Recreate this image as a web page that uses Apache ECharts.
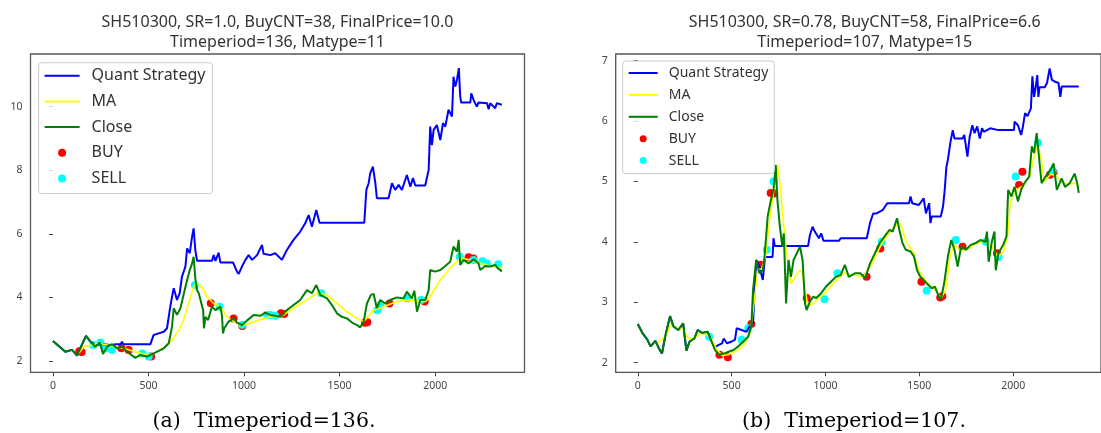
<!DOCTYPE html>
<html>
<head>
<meta charset="utf-8">
<script src="https://cdn.jsdelivr.net/npm/echarts@6/dist/echarts.min.js"></script>
<style>
  html, body { margin: 0; padding: 0; background: #fff; overflow: hidden; }
  #main { width: 1101px; height: 433px; }
</style>
</head>
<body>
<div id="main"></div>
<script>
// ---- data (index on x, price on y) ----
const xTicks = [0, 500, 1000, 1500, 2000];
const yTicksA = [2, 4, 6, 8, 10];
const yTicksB = [2, 3, 4, 5, 6, 7];

// (a) Timeperiod=136
const qsA_x = [0,65,100,126,143,173,196,222,248,265,300,330,355,361,368,484,510,527,553,580,597,611,623,632,649,663,675,693,702,716,728,736,745,754,832,841,850,867,876,942,963,972,989,1007,1024,1042,1068,1094,1102,1137,1163,1198,1224,1259,1294,1320,1338,1355,1378,1395,1629,1640,1652,1660,1674,1687,1695,1756,1774,1791,1809,1826,1852,1870,1884,1896,1948,1966,1974,1983,1992,2009,2027,2041,2053,2070,2088,2096,2105,2114,2124,2131,2136,2184,2189,2201,2218,2227,2271,2280,2288,2314,2323,2349];
const qsA_y = [2.63,2.29,2.35,2.17,2.40,2.79,2.61,2.50,2.53,2.53,2.50,2.53,2.53,2.61,2.53,2.53,2.53,2.82,2.87,2.92,3.03,3.60,4.02,4.29,3.92,4.13,4.65,4.97,5.54,5.39,5.91,6.17,5.49,5.15,5.15,5.33,5.15,5.41,5.10,5.10,4.81,4.74,4.97,5.18,5.33,5.18,5.33,5.65,5.37,5.33,5.39,5.18,5.49,5.81,6.07,6.33,6.59,6.22,6.75,6.35,6.35,7.38,7.59,7.90,8.11,7.59,7.12,7.12,7.59,7.38,7.54,7.38,7.85,7.48,7.75,7.52,7.52,8.01,9.37,8.79,9.27,9.42,8.95,9.48,9.37,9.90,9.69,10.94,10.63,10.84,11.21,10.32,10.13,10.13,10.42,10.21,10.00,10.13,10.11,9.92,10.11,9.95,10.11,10.06];

const maA_x = [135,161,240,309,388,457,510,545,588,623,658,684,710,736,754,780,806,841,876,911,946,981,1015,1068,1137,1190,1259,1329,1381,1434,1486,1538,1591,1626,1678,1730,1800,1870,1948,1974,2027,2079,2131,2184,2236,2288,2349];
const maA_y = [2.24,2.45,2.56,2.47,2.37,2.24,2.19,2.29,2.45,2.66,2.98,3.29,3.81,4.34,4.44,4.34,4.02,3.81,3.71,3.39,3.24,3.13,3.16,3.27,3.39,3.39,3.66,3.92,4.13,4.08,3.81,3.55,3.34,3.24,3.60,3.71,3.87,3.92,3.87,4.02,4.55,4.92,5.23,5.18,5.07,4.99,4.93];

const closeA_x = [0,65,100,126,143,173,196,222,245,262,283,309,335,361,388,431,457,492,527,580,606,623,632,649,667,681,702,716,728,736,745,754,763,772,786,790,798,812,832,850,876,884,890,897,919,946,963,989,1015,1050,1085,1111,1137,1190,1224,1259,1294,1329,1355,1378,1399,1434,1460,1486,1512,1538,1565,1591,1608,1626,1643,1664,1678,1695,1713,1739,1765,1800,1835,1852,1878,1891,1905,1922,1948,1966,1974,2000,2027,2053,2079,2096,2114,2123,2131,2149,2175,2201,2227,2236,2262,2288,2314,2327,2349];
const closeA_y = [2.63,2.29,2.35,2.17,2.40,2.79,2.61,2.45,2.58,2.22,2.45,2.53,2.40,2.45,2.29,2.10,2.19,2.14,2.24,2.40,2.56,3.08,3.66,3.45,3.66,4.02,4.55,4.86,5.07,5.28,4.60,4.23,4.13,3.92,3.60,3.03,3.39,3.29,3.71,3.60,3.71,3.45,2.87,3.03,3.24,3.34,3.21,3.13,3.27,3.45,3.42,3.52,3.45,3.39,3.60,3.76,3.92,4.23,4.13,4.39,4.08,3.97,3.76,3.50,3.39,3.34,3.21,3.13,3.06,3.24,3.81,4.08,4.11,3.66,3.92,3.81,3.92,4.00,3.97,4.18,3.97,4.21,3.55,3.92,3.92,4.23,4.86,4.81,4.86,4.99,5.12,5.60,5.44,5.81,5.02,5.18,5.07,5.20,5.07,4.86,4.99,4.97,5.02,4.92,4.82];

const buyA_x = [138,150,358,396,514,826,945,991,1193,1210,1633,1645,1761,1945,2175,2200];
const buyA_y = [2.31,2.28,2.40,2.35,2.14,3.82,3.34,3.10,3.50,3.48,3.20,3.22,3.81,3.87,5.26,5.22];
const sellA_x = [211,248,275,309,468,501,743,872,991,1120,1137,1163,1404,1697,1713,1852,1927,2129,2201,2248,2271,2330];
const sellA_y = [2.50,2.58,2.40,2.35,2.24,2.14,4.39,3.71,3.14,3.45,3.45,3.42,4.13,3.60,3.76,3.97,3.92,5.28,5.18,5.14,5.07,5.04];

// (b) Timeperiod=107
const qsB_x = [0,25,51,68,94,112,129,146,172,190,216,242,259,276,302,319,345,372,389,411,423,449,458,475,501,518,527,553,579,596,614,631,648,666,678,718,723,730,907,917,931,943,951,965,977,989,1072,1081,1220,1237,1254,1272,1306,1329,1445,1453,1462,1497,1523,1535,1552,1559,1566,1614,1626,1635,1644,1652,1666,1678,1687,1730,1739,1748,1756,1768,1782,1794,1808,1822,1834,1843,1877,1921,2004,2007,2025,2042,2050,2063,2076,2094,2102,2111,2120,2128,2134,2140,2168,2180,2194,2206,2224,2241,2251,2258,2349];
const qsB_y = [2.64,2.49,2.38,2.27,2.36,2.24,2.15,2.43,2.77,2.60,2.54,2.65,2.20,2.35,2.40,2.54,2.49,2.51,2.38,2.25,2.28,2.32,2.40,2.32,2.35,2.38,2.57,2.54,2.51,2.60,2.65,3.70,3.59,3.37,3.75,3.75,4.06,3.93,3.93,4.11,4.25,4.17,4.20,4.06,4.14,4.02,4.02,4.06,4.06,4.31,4.47,4.47,4.53,4.64,4.64,4.75,4.64,4.61,4.72,4.47,4.64,4.31,4.42,4.42,4.58,4.86,5.24,5.36,5.66,5.85,5.71,5.71,5.77,5.58,5.41,5.74,5.93,5.80,5.91,5.71,5.88,5.82,5.88,5.85,5.85,5.99,5.93,5.77,5.88,6.13,6.08,6.21,6.74,6.40,6.57,6.76,6.40,6.56,6.56,6.63,6.87,6.68,6.65,6.63,6.40,6.57,6.57];

const maB_x = [107,150,172,200,240,270,300,330,360,390,420,450,480,510,540,570,600,620,640,660,680,700,720,735,745,760,775,790,803,816,830,856,873,891,907,934,968,1012,1060,1100,1150,1200,1250,1300,1340,1385,1400,1430,1470,1500,1540,1580,1615,1640,1665,1690,1720,1760,1800,1850,1880,1920,1950,1970,1985,2010,2050,2090,2110,2130,2150,2165,2200,2230,2260,2300,2330,2349];
const maB_y = [2.33,2.45,2.62,2.58,2.55,2.40,2.40,2.47,2.48,2.40,2.22,2.12,2.13,2.17,2.22,2.32,2.50,3.00,3.55,3.55,3.75,4.30,4.75,5.10,5.27,4.90,4.35,3.90,3.59,3.31,3.37,3.51,3.53,3.20,2.93,2.98,3.07,3.20,3.38,3.48,3.45,3.42,3.65,3.98,4.15,4.30,4.30,4.00,3.82,3.50,3.33,3.22,3.07,3.20,3.80,3.95,3.85,3.88,3.97,4.02,3.95,3.75,3.85,4.10,4.65,4.85,4.92,5.10,5.40,5.60,5.35,5.00,5.12,5.10,4.98,4.95,4.98,4.88];

const closeB_x = [0,25,51,68,94,112,129,146,172,190,216,242,259,276,302,319,345,372,389,411,432,458,484,510,536,562,588,605,614,631,648,666,674,692,709,723,735,744,757,770,778,790,803,816,830,847,864,878,891,899,917,934,951,977,1003,1029,1055,1081,1103,1124,1159,1185,1211,1237,1263,1289,1315,1341,1358,1381,1393,1410,1427,1453,1471,1488,1505,1523,1540,1566,1583,1600,1614,1632,1652,1670,1687,1704,1722,1748,1774,1800,1825,1851,1860,1869,1886,1900,1907,1921,1947,1964,1973,1990,2007,2025,2042,2059,2085,2099,2111,2125,2137,2151,2172,2198,2215,2232,2258,2276,2301,2327,2341,2349];
const closeB_y = [2.64,2.49,2.38,2.27,2.36,2.24,2.15,2.43,2.77,2.60,2.54,2.65,2.20,2.35,2.40,2.54,2.49,2.51,2.38,2.21,2.13,2.15,2.18,2.21,2.27,2.35,2.43,2.60,3.20,3.70,3.48,3.53,3.70,4.42,4.69,4.86,5.27,4.69,4.25,3.92,4.14,2.98,3.70,3.42,3.70,3.81,3.92,3.70,2.98,2.87,3.01,3.09,3.07,3.15,3.26,3.34,3.42,3.45,3.62,3.42,3.48,3.48,3.40,3.64,3.81,3.98,4.09,4.20,4.17,4.39,4.20,3.98,3.87,3.84,3.76,3.53,3.42,3.37,3.31,3.23,3.26,3.12,3.04,3.31,3.76,4.03,3.87,3.59,3.92,3.87,3.95,3.98,4.03,4.00,4.17,3.67,4.00,4.17,3.53,3.81,3.95,4.09,4.86,4.75,4.91,4.67,4.86,4.97,5.08,5.58,5.47,5.80,5.41,4.97,5.08,5.19,5.30,4.86,5.05,4.91,4.97,5.13,4.97,4.81];

const buyB_x = [435,480,605,653,708,727,900,1219,1292,1511,1611,1622,1730,1913,2031,2049,2196,2215];
const buyB_y = [2.13,2.09,2.64,3.62,4.81,4.80,3.07,3.42,3.89,3.34,3.08,3.10,3.92,3.81,4.94,5.16,5.11,5.15];
const sellB_x = [380,553,589,687,723,995,1064,1300,1539,1694,1854,1922,2013,2132,2210];
const sellB_y = [2.43,2.38,2.57,3.87,5.00,3.05,3.48,4.00,3.19,4.03,4.00,3.75,5.08,5.64,5.17];

// ---- chart ----
const zip = (xs, ys) => xs.map((x, k) => [x, ys[k]]);
const hideDot = { color: 'rgba(0,0,0,0)', borderWidth: 0, opacity: 0 };
const legendNames = [
  { name: 'Quant Strategy', itemStyle: hideDot },
  { name: 'MA', itemStyle: hideDot },
  { name: 'Close', itemStyle: hideDot },
  { name: 'BUY', icon: 'circle' },
  { name: 'SELL', icon: 'circle' }
];

function seriesFor(idx, qx, qy, mx, my, cx, cy, bx, by, sx, sy) {
  const line = (name, color, w, xs, ys) => ({
    name: name, type: 'line', xAxisIndex: idx, yAxisIndex: idx,
    data: zip(xs, ys), symbol: 'none', showSymbol: false, z: 3,
    lineStyle: { color: color, width: w }, itemStyle: { color: color },
    animation: false
  });
  const dots = (name, color, xs, ys) => ({
    name: name, type: 'scatter', xAxisIndex: idx, yAxisIndex: idx,
    data: zip(xs, ys), symbol: 'circle', symbolSize: 8, z: 1,
    itemStyle: { color: color, opacity: 1 }, animation: false
  });
  return [
    line('Quant Strategy', '#0000ff', 2, qx, qy),
    line('MA', '#ffff00', 1.6, mx, my),
    line('Close', '#008000', 2, cx, cy),
    dots('BUY', '#ff0000', bx, by),
    dots('SELL', '#00ffff', sx, sy)
  ];
}

const tickLabel = { margin: 8, fontSize: 10.5, color: '#444', fontFamily: 'Noto Sans', formatter: v => String(v) };

function xAxisFor(idx) {
  return {
    type: 'value', gridIndex: idx, min: -117.5, max: 2467.5,
    splitLine: { show: false }, axisLine: { show: false },
    axisTick: { show: true, inside: false, length: 4, customValues: xTicks, lineStyle: { color: '#444' } },
    axisLabel: Object.assign({ customValues: xTicks }, tickLabel)
  };
}
function yAxisFor(idx, min, max, ticks) {
  return {
    type: 'value', gridIndex: idx, min: min, max: max,
    splitLine: { show: false }, axisLine: { show: false },
    axisTick: { show: true, inside: false, length: 4, customValues: ticks, lineStyle: { color: '#444' } },
    axisLabel: Object.assign({ customValues: ticks }, tickLabel)
  };
}
function legendFor(left, top, w, h, gap, fs, pad, tpad) {
  return {
    orient: 'vertical', left: left, top: top, itemWidth: w, itemHeight: h, itemGap: gap,
    padding: pad, backgroundColor: 'rgba(255,255,255,0.8)', borderColor: '#cccccc',
    borderWidth: 1, borderRadius: 3, selectedMode: false, data: legendNames,
    textStyle: { fontFamily: 'Noto Sans', fontSize: fs, color: '#333', padding: [0, 0, 0, tpad] }
  };
}

const chart = echarts.init(document.getElementById('main'), null, { renderer: 'canvas' });
const titleStyle = { fontFamily: 'Noto Sans', fontWeight: 'normal', fontSize: 16, color: '#333', lineHeight: 20 };
const capStyle = { fontFamily: 'DejaVu Serif', fontWeight: 'normal', fontSize: 20.5, color: '#000', lineHeight: 22 };

chart.setOption({
  animation: false,
  backgroundColor: '#fff',
  title: [
    { text: 'SH510300, SR=1.0, BuyCNT=38, FinalPrice=10.0\nTimeperiod=136, Matype=11', left: 277.5, top: 12, padding: 0, textAlign: 'center', textStyle: titleStyle },
    { text: 'SH510300, SR=0.78, BuyCNT=58, FinalPrice=6.6\nTimeperiod=107, Matype=15', left: 864.7, top: 12, padding: 0, textAlign: 'center', textStyle: titleStyle },
    { text: '(a)  Timeperiod=136.', left: 264, top: 411, padding: 0, textAlign: 'center', textStyle: capStyle },
    { text: '(b)  Timeperiod=107.', left: 854, top: 411, padding: 0, textAlign: 'center', textStyle: capStyle }
  ],
  grid: [
    { left: 30.5, top: 54, width: 494, height: 318.3, show: true, borderColor: '#555', borderWidth: 1.3, backgroundColor: 'transparent' },
    { left: 615.7, top: 54, width: 498, height: 318.3, show: true, borderColor: '#555', borderWidth: 1.3, backgroundColor: 'transparent' }
  ],
  xAxis: [xAxisFor(0), xAxisFor(1)],
  yAxis: [yAxisFor(0, 1.645, 11.655, yTicksA), yAxisFor(1, 1.84, 7.11, yTicksB)],
  legend: [
    legendFor(38.6, 62.7, 35, 8, 9.7, 16, [5, 7, 7, 5], 7),
    legendFor(622.7, 61, 29, 7, 7.9, 14, [5, 6, 6, 5], 6)
  ],
  series: [].concat(
    seriesFor(0, qsA_x, qsA_y, maA_x, maA_y, closeA_x, closeA_y, buyA_x, buyA_y, sellA_x, sellA_y),
    seriesFor(1, qsB_x, qsB_y, maB_x, maB_y, closeB_x, closeB_y, buyB_x, buyB_y, sellB_x, sellB_y)
  )
});
</script>
</body>
</html>
